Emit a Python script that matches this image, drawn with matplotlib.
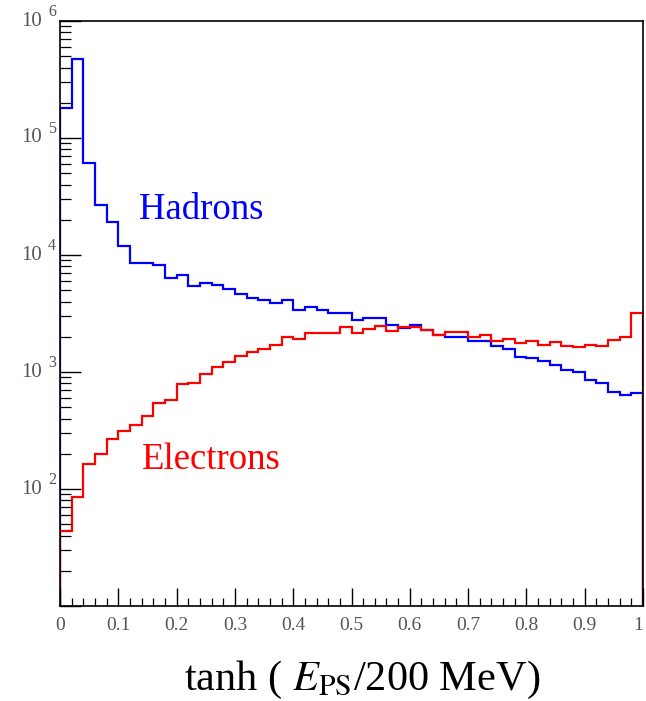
import numpy as np
import matplotlib
matplotlib.use("Agg")
import matplotlib.pyplot as plt
import matplotlib.transforms as mtrans
from matplotlib.ticker import MultipleLocator, LogLocator, FixedLocator, NullFormatter

plt.rcParams['font.family'] = ['Liberation Serif', 'DejaVu Serif']
plt.rcParams['mathtext.fontset'] = 'stix'

bin_edges = np.linspace(0.0, 1.0, 51)

hadrons = [1.8e5, 4.7e5, 6.1e4, 2.7e4, 1.9e4, 1.2e4, 8.6e3, 8.5e3, 8.2e3, 6.4e3,
           6.8e3, 5.4e3, 5.8e3, 5.5e3, 5.1e3, 4.6e3, 4.3e3, 4.1e3, 3.9e3, 4.1e3,
           3.4e3, 3.6e3, 3.4e3, 3.2e3, 3.2e3, 2.8e3, 2.9e3, 2.9e3, 2.5e3, 2.4e3,
           2.5e3, 2.3e3, 2.07e3, 2.0e3, 2.0e3, 1.84e3, 1.84e3, 1.68e3, 1.57e3, 1.35e3,
           1.31e3, 1.25e3, 1.15e3, 1.04e3, 1.0e3, 850, 810, 680, 630, 660]

electrons = [44, 85, 165, 200, 270, 315, 350, 420, 545, 575,
             790, 810, 960, 1.1e3, 1.22e3, 1.37e3, 1.48e3, 1.58e3, 1.7e3, 2.0e3,
             1.9e3, 2.17e3, 2.17e3, 2.17e3, 2.44e3, 2.17e3, 2.35e3, 2.45e3, 2.24e3, 2.44e3,
             2.44e3, 2.3e3, 2.07e3, 2.2e3, 2.2e3, 2.0e3, 2.07e3, 1.85e3, 1.9e3, 1.76e3,
             1.85e3, 1.7e3, 1.82e3, 1.68e3, 1.65e3, 1.7e3, 1.66e3, 1.87e3, 2.0e3, 3.2e3]

x_ticks = [0, 0.1, 0.2, 0.3, 0.4, 0.5, 0.6, 0.7, 0.8, 0.9, 1]
x_tick_labels = ['0', '0.1', '0.2', '0.3', '0.4', '0.5', '0.6', '0.7', '0.8', '0.9', '1']
y_label_values = [1e2, 1e3, 1e4, 1e5, 1e6]
y_label_exps = ['2', '3', '4', '5', '6']

fig = plt.figure(figsize=(6.46, 7.01), dpi=100)
ax = fig.add_axes([60/646, 1-606/701, 583/646, 585/701])

ax.stairs(hadrons, bin_edges, baseline=1e-3, color=(0, 0, 1), lw=1.6)
ax.stairs(electrons, bin_edges, baseline=1e-3, color=(1, 0, 0), lw=1.6)

ax.set_yscale('log')
ax.set_xlim(0, 1)
ax.set_ylim(10, 1e6)

ax.xaxis.set_major_locator(FixedLocator(x_ticks))
ax.set_xticklabels(x_tick_labels)
ax.xaxis.set_minor_locator(MultipleLocator(0.02))
ax.yaxis.set_major_locator(LogLocator(base=10, numticks=10))
ax.yaxis.set_minor_locator(LogLocator(base=10, subs=np.arange(2, 10), numticks=20))
ax.yaxis.set_major_formatter(NullFormatter())
ax.yaxis.set_minor_formatter(NullFormatter())

ax.tick_params(axis='both', which='major', direction='in', width=1, colors='black',
               labelcolor='#555555', labelsize=14)
ax.tick_params(axis='y', which='major', length=15)
ax.tick_params(axis='y', which='minor', direction='in', length=8, width=0.9)
ax.tick_params(axis='x', which='major', length=13, pad=8)
ax.tick_params(axis='x', which='minor', direction='in', length=6, width=0.9)
xlabels = ax.get_xticklabels()
xlabels[-1].set_horizontalalignment('right')

# y tick labels "10" with a raised exponent
blend = mtrans.blended_transform_factory(fig.transFigure, ax.transData)
for v, e in zip(y_label_values, y_label_exps):
    ax.text(42/646, v, '10', transform=blend, fontsize=15, color='#555555',
            ha='right', va='center', clip_on=False)
    ax.text(48/646, v, e, transform=blend + mtrans.ScaledTranslation(0, 0.09, fig.dpi_scale_trans),
            fontsize=11.5, color='#555555', ha='left', va='center', clip_on=False)

for s in ax.spines.values():
    s.set_linewidth(1.2)

ax.text(0.135, 2.46e4, 'Hadrons', color=(0, 0, 1), fontsize=26.5, ha='left', va='center')
ax.text(0.140, 1.78e2, 'Electrons', color=(1, 0, 0), fontsize=26.5, ha='left', va='center')

fig.text(362/646, 1-680/701, r'tanh ( $E_{\rm PS}$/200 MeV)', fontsize=30.5,
         ha='center', va='center')

fig.savefig('out.png', dpi=100)
